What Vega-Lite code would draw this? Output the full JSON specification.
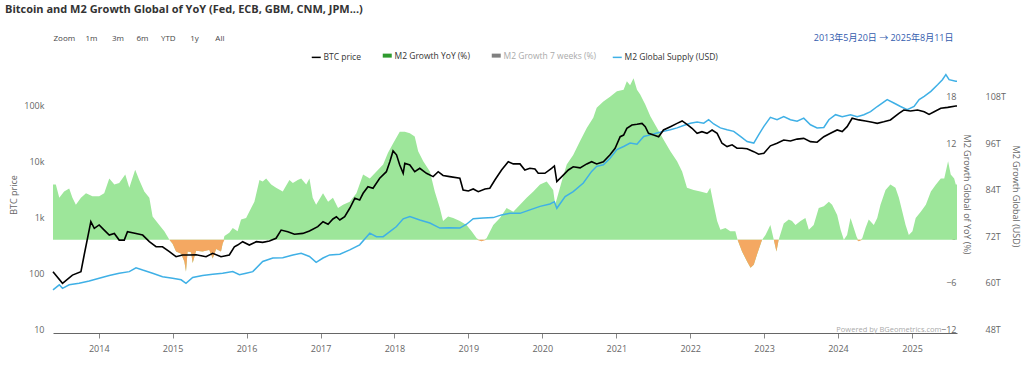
{
  "$schema": "https://vega.github.io/schema/vega-lite/v6.json",
  "width": 904,
  "height": 263,
  "autosize": {"type": "none"},
  "padding": {"left": 53, "top": 70, "right": 67, "bottom": 34},
  "background": "#ffffff",
  "title": {
    "text": "Bitcoin and M2 Growth Global of YoY (Fed, ECB, GBM, CNM, JPM...)",
    "anchor": "start",
    "frame": "group",
    "dx": -48,
    "offset": 18,
    "font": "Open Sans",
    "fontSize": 11,
    "fontWeight": "bold",
    "color": "#333333"
  },
  "datasets": {
    "btc": [
      {"date": "2013-05-20", "price": 124}, {"date": "2013-07-06", "price": 77}, {"date": "2013-08-24", "price": 108},
      {"date": "2013-10-05", "price": 124}, {"date": "2013-10-21", "price": 247}, {"date": "2013-11-23", "price": 972},
      {"date": "2013-12-10", "price": 740}, {"date": "2014-01-03", "price": 850}, {"date": "2014-01-28", "price": 688},
      {"date": "2014-02-22", "price": 560}, {"date": "2014-03-19", "price": 600}, {"date": "2014-04-12", "price": 456},
      {"date": "2014-05-07", "price": 456}, {"date": "2014-05-23", "price": 644}, {"date": "2014-07-04", "price": 600},
      {"date": "2014-08-06", "price": 560}, {"date": "2014-09-08", "price": 427}, {"date": "2014-10-11", "price": 347},
      {"date": "2014-11-12", "price": 347}, {"date": "2014-12-16", "price": 283}, {"date": "2015-01-18", "price": 230},
      {"date": "2015-02-19", "price": 247}, {"date": "2015-03-25", "price": 247}, {"date": "2015-04-27", "price": 250},
      {"date": "2015-06-15", "price": 230}, {"date": "2015-07-18", "price": 265}, {"date": "2015-08-28", "price": 230},
      {"date": "2015-10-08", "price": 247}, {"date": "2015-11-02", "price": 347}, {"date": "2015-11-18", "price": 372},
      {"date": "2015-12-13", "price": 427}, {"date": "2016-01-15", "price": 372}, {"date": "2016-02-18", "price": 427},
      {"date": "2016-03-21", "price": 415}, {"date": "2016-04-23", "price": 440}, {"date": "2016-05-26", "price": 491},
      {"date": "2016-06-20", "price": 688}, {"date": "2016-07-23", "price": 644}, {"date": "2016-08-25", "price": 580},
      {"date": "2016-10-05", "price": 600}, {"date": "2016-11-07", "price": 663}, {"date": "2016-12-18", "price": 791},
      {"date": "2017-01-13", "price": 972}, {"date": "2017-02-07", "price": 875}, {"date": "2017-03-03", "price": 1086},
      {"date": "2017-03-20", "price": 1190}, {"date": "2017-04-06", "price": 1040}, {"date": "2017-04-30", "price": 1190},
      {"date": "2017-05-25", "price": 1686}, {"date": "2017-06-19", "price": 2543}, {"date": "2017-07-13", "price": 2370},
      {"date": "2017-07-30", "price": 3126}, {"date": "2017-08-23", "price": 4100}, {"date": "2017-09-17", "price": 3840},
      {"date": "2017-10-20", "price": 5790}, {"date": "2017-11-22", "price": 7590}, {"date": "2017-12-09", "price": 11440},
      {"date": "2017-12-25", "price": 17800}, {"date": "2018-01-11", "price": 15200}, {"date": "2018-01-27", "price": 10000},
      {"date": "2018-02-13", "price": 7100}, {"date": "2018-02-21", "price": 10700}, {"date": "2018-03-18", "price": 10000},
      {"date": "2018-04-11", "price": 7590}, {"date": "2018-05-06", "price": 8730}, {"date": "2018-06-08", "price": 7100},
      {"date": "2018-07-11", "price": 6200}, {"date": "2018-08-05", "price": 7590}, {"date": "2018-08-29", "price": 6500},
      {"date": "2018-10-01", "price": 6200}, {"date": "2018-11-20", "price": 5790}, {"date": "2018-12-06", "price": 3580},
      {"date": "2019-01-01", "price": 3430}, {"date": "2019-01-25", "price": 3730}, {"date": "2019-02-19", "price": 3330},
      {"date": "2019-03-24", "price": 3730}, {"date": "2019-04-17", "price": 3840}, {"date": "2019-05-12", "price": 5400},
      {"date": "2019-06-14", "price": 8150}, {"date": "2019-07-17", "price": 11440}, {"date": "2019-08-11", "price": 10450},
      {"date": "2019-09-13", "price": 10450}, {"date": "2019-10-07", "price": 8150}, {"date": "2019-11-01", "price": 8730},
      {"date": "2019-11-26", "price": 8500}, {"date": "2019-12-12", "price": 7100}, {"date": "2020-01-14", "price": 7100},
      {"date": "2020-02-16", "price": 8730}, {"date": "2020-03-01", "price": 9600}, {"date": "2020-03-13", "price": 5040},
      {"date": "2020-04-14", "price": 6600}, {"date": "2020-05-09", "price": 8150}, {"date": "2020-06-02", "price": 9300},
      {"date": "2020-07-06", "price": 8900}, {"date": "2020-08-08", "price": 10450}, {"date": "2020-09-01", "price": 11440},
      {"date": "2020-09-26", "price": 10450}, {"date": "2020-10-29", "price": 11440}, {"date": "2020-12-01", "price": 15200},
      {"date": "2020-12-26", "price": 19900}, {"date": "2021-01-20", "price": 32000}, {"date": "2021-02-06", "price": 34200},
      {"date": "2021-02-22", "price": 45200}, {"date": "2021-03-19", "price": 51800}, {"date": "2021-04-13", "price": 53200},
      {"date": "2021-05-08", "price": 55400}, {"date": "2021-05-24", "price": 48300}, {"date": "2021-06-09", "price": 36800},
      {"date": "2021-07-04", "price": 34200}, {"date": "2021-07-29", "price": 32000}, {"date": "2021-08-22", "price": 42200},
      {"date": "2021-09-25", "price": 48300}, {"date": "2021-10-28", "price": 55400}, {"date": "2021-11-22", "price": 61100},
      {"date": "2021-12-16", "price": 53200}, {"date": "2022-01-10", "price": 45200}, {"date": "2022-02-04", "price": 36800},
      {"date": "2022-02-28", "price": 39400}, {"date": "2022-03-25", "price": 36800}, {"date": "2022-04-19", "price": 42200},
      {"date": "2022-05-14", "price": 36800}, {"date": "2022-06-07", "price": 24400}, {"date": "2022-07-02", "price": 21300},
      {"date": "2022-07-27", "price": 22900}, {"date": "2022-08-20", "price": 19900}, {"date": "2022-09-14", "price": 19900},
      {"date": "2022-10-09", "price": 19500}, {"date": "2022-11-11", "price": 17300}, {"date": "2022-12-05", "price": 15600},
      {"date": "2022-12-31", "price": 16200}, {"date": "2023-02-01", "price": 22000}, {"date": "2023-03-06", "price": 24400},
      {"date": "2023-04-08", "price": 27900}, {"date": "2023-05-11", "price": 26800}, {"date": "2023-06-13", "price": 29000},
      {"date": "2023-07-16", "price": 29900}, {"date": "2023-08-18", "price": 26100}, {"date": "2023-09-20", "price": 25500},
      {"date": "2023-10-23", "price": 32000}, {"date": "2023-11-25", "price": 36800}, {"date": "2023-12-28", "price": 42200},
      {"date": "2024-01-22", "price": 39400}, {"date": "2024-02-15", "price": 48300}, {"date": "2024-03-11", "price": 68300},
      {"date": "2024-04-13", "price": 63800}, {"date": "2024-05-16", "price": 61100}, {"date": "2024-06-18", "price": 58000},
      {"date": "2024-07-13", "price": 55400}, {"date": "2024-08-14", "price": 59000}, {"date": "2024-09-16", "price": 63800},
      {"date": "2024-10-28", "price": 83700}, {"date": "2024-11-21", "price": 96000}, {"date": "2024-12-24", "price": 92000},
      {"date": "2025-01-28", "price": 96000}, {"date": "2025-03-02", "price": 89000}, {"date": "2025-03-26", "price": 80000},
      {"date": "2025-04-20", "price": 89000}, {"date": "2025-05-23", "price": 103000}, {"date": "2025-06-26", "price": 107000},
      {"date": "2025-08-05", "price": 113000}, {"date": "2025-08-11", "price": 113000}
    ],
    "supply": [
      {"date": "2013-05-20", "t": 59.1}, {"date": "2013-06-20", "t": 60.4}, {"date": "2013-07-06", "t": 59.5},
      {"date": "2013-08-08", "t": 60.4}, {"date": "2013-09-26", "t": 60.8}, {"date": "2013-11-15", "t": 61.4},
      {"date": "2014-01-03", "t": 62.1}, {"date": "2014-02-22", "t": 62.8}, {"date": "2014-04-12", "t": 63.4},
      {"date": "2014-06-01", "t": 63.8}, {"date": "2014-07-04", "t": 64.8}, {"date": "2014-08-06", "t": 64.2},
      {"date": "2014-09-24", "t": 63.4}, {"date": "2014-11-12", "t": 62.5}, {"date": "2015-01-01", "t": 62.1},
      {"date": "2015-02-12", "t": 61.7}, {"date": "2015-03-08", "t": 60.8}, {"date": "2015-04-10", "t": 62.3},
      {"date": "2015-05-29", "t": 62.8}, {"date": "2015-07-18", "t": 63.1}, {"date": "2015-09-05", "t": 63.4},
      {"date": "2015-10-25", "t": 63.8}, {"date": "2015-11-27", "t": 63.0}, {"date": "2015-12-30", "t": 63.4},
      {"date": "2016-02-01", "t": 63.8}, {"date": "2016-03-21", "t": 66.4}, {"date": "2016-05-10", "t": 67.3},
      {"date": "2016-06-28", "t": 67.4}, {"date": "2016-08-17", "t": 68.1}, {"date": "2016-09-27", "t": 68.5},
      {"date": "2016-11-07", "t": 67.7}, {"date": "2016-12-10", "t": 66.2}, {"date": "2017-01-13", "t": 67.3},
      {"date": "2017-02-15", "t": 68.1}, {"date": "2017-04-06", "t": 68.3}, {"date": "2017-05-25", "t": 69.4},
      {"date": "2017-07-13", "t": 70.7}, {"date": "2017-09-01", "t": 73.7}, {"date": "2017-10-04", "t": 72.8},
      {"date": "2017-11-06", "t": 72.8}, {"date": "2017-12-09", "t": 74.1}, {"date": "2018-01-11", "t": 75.4},
      {"date": "2018-02-13", "t": 77.4}, {"date": "2018-03-18", "t": 78.0}, {"date": "2018-05-06", "t": 77.1},
      {"date": "2018-06-25", "t": 76.3}, {"date": "2018-08-13", "t": 75.0}, {"date": "2018-10-01", "t": 75.1},
      {"date": "2018-11-20", "t": 75.0}, {"date": "2018-12-23", "t": 76.0}, {"date": "2019-01-25", "t": 77.4},
      {"date": "2019-03-15", "t": 77.6}, {"date": "2019-05-04", "t": 77.7}, {"date": "2019-06-14", "t": 78.4},
      {"date": "2019-07-25", "t": 78.8}, {"date": "2019-09-13", "t": 78.8}, {"date": "2019-11-01", "t": 79.7},
      {"date": "2019-12-21", "t": 80.6}, {"date": "2020-02-08", "t": 81.2}, {"date": "2020-03-01", "t": 81.8},
      {"date": "2020-03-13", "t": 80.1}, {"date": "2020-04-23", "t": 83.1}, {"date": "2020-06-02", "t": 84.4},
      {"date": "2020-07-22", "t": 86.6}, {"date": "2020-09-01", "t": 89.6}, {"date": "2020-09-26", "t": 90.9},
      {"date": "2020-10-29", "t": 91.3}, {"date": "2020-12-01", "t": 93.0}, {"date": "2021-01-04", "t": 95.2},
      {"date": "2021-02-06", "t": 96.0}, {"date": "2021-03-10", "t": 96.9}, {"date": "2021-04-13", "t": 96.6},
      {"date": "2021-05-16", "t": 98.6}, {"date": "2021-06-18", "t": 99.0}, {"date": "2021-07-21", "t": 99.5},
      {"date": "2021-08-22", "t": 99.9}, {"date": "2021-09-25", "t": 100.3}, {"date": "2021-10-28", "t": 100.8},
      {"date": "2021-11-29", "t": 101.4}, {"date": "2022-01-02", "t": 102.0}, {"date": "2022-02-04", "t": 102.3},
      {"date": "2022-03-09", "t": 102.0}, {"date": "2022-04-02", "t": 102.9}, {"date": "2022-04-27", "t": 101.8},
      {"date": "2022-05-30", "t": 100.8}, {"date": "2022-07-02", "t": 100.3}, {"date": "2022-08-04", "t": 99.9},
      {"date": "2022-09-06", "t": 98.6}, {"date": "2022-10-09", "t": 97.3}, {"date": "2022-11-11", "t": 96.9},
      {"date": "2022-12-05", "t": 99.0}, {"date": "2022-12-31", "t": 101.2}, {"date": "2023-02-01", "t": 103.5},
      {"date": "2023-03-06", "t": 102.9}, {"date": "2023-04-08", "t": 103.7}, {"date": "2023-05-11", "t": 102.9},
      {"date": "2023-06-13", "t": 102.5}, {"date": "2023-07-16", "t": 103.3}, {"date": "2023-08-18", "t": 101.6},
      {"date": "2023-09-20", "t": 100.8}, {"date": "2023-10-23", "t": 100.9}, {"date": "2023-11-17", "t": 102.9},
      {"date": "2023-12-20", "t": 104.2}, {"date": "2024-01-22", "t": 103.7}, {"date": "2024-03-03", "t": 104.2},
      {"date": "2024-04-05", "t": 103.7}, {"date": "2024-05-08", "t": 104.2}, {"date": "2024-06-10", "t": 105.0},
      {"date": "2024-07-13", "t": 106.3}, {"date": "2024-08-31", "t": 108.1}, {"date": "2024-10-03", "t": 107.2},
      {"date": "2024-11-05", "t": 106.3}, {"date": "2024-12-08", "t": 105.5}, {"date": "2025-01-11", "t": 106.3},
      {"date": "2025-02-05", "t": 108.1}, {"date": "2025-03-02", "t": 108.9}, {"date": "2025-04-04", "t": 110.2},
      {"date": "2025-05-07", "t": 111.9}, {"date": "2025-05-31", "t": 113.2}, {"date": "2025-06-17", "t": 114.5},
      {"date": "2025-07-03", "t": 113.2}, {"date": "2025-08-05", "t": 112.8}, {"date": "2025-08-11", "t": 112.8}
    ],
    "growth": [
      {"date": "2013-05-20", "yoy": 7.1}, {"date": "2013-06-03", "yoy": 7.1}, {"date": "2013-06-20", "yoy": 5.4},
      {"date": "2013-07-14", "yoy": 6.2}, {"date": "2013-08-08", "yoy": 6.6}, {"date": "2013-08-24", "yoy": 5.4},
      {"date": "2013-09-10", "yoy": 4.5}, {"date": "2013-10-05", "yoy": 5.4}, {"date": "2013-10-30", "yoy": 6.0},
      {"date": "2013-12-01", "yoy": 5.6}, {"date": "2014-01-03", "yoy": 5.6}, {"date": "2014-01-28", "yoy": 6.0},
      {"date": "2014-02-22", "yoy": 7.9}, {"date": "2014-03-19", "yoy": 7.1}, {"date": "2014-04-12", "yoy": 7.3},
      {"date": "2014-05-12", "yoy": 8.4}, {"date": "2014-06-01", "yoy": 6.7}, {"date": "2014-06-30", "yoy": 9.0},
      {"date": "2014-07-20", "yoy": 7.7}, {"date": "2014-08-14", "yoy": 6.2}, {"date": "2014-09-08", "yoy": 5.4},
      {"date": "2014-09-24", "yoy": 3.0}, {"date": "2014-10-27", "yoy": 1.9}, {"date": "2014-11-21", "yoy": 1.1},
      {"date": "2014-12-16", "yoy": 0.0}, {"date": "2015-01-01", "yoy": -0.5}, {"date": "2015-01-18", "yoy": -1.5},
      {"date": "2015-02-12", "yoy": -1.8}, {"date": "2015-02-28", "yoy": -2.8}, {"date": "2015-03-08", "yoy": -4.1},
      {"date": "2015-03-16", "yoy": -1.5}, {"date": "2015-04-02", "yoy": -1.6}, {"date": "2015-04-10", "yoy": -3.0},
      {"date": "2015-04-27", "yoy": -1.4}, {"date": "2015-05-29", "yoy": -1.5}, {"date": "2015-07-01", "yoy": -1.3},
      {"date": "2015-07-18", "yoy": -2.4}, {"date": "2015-08-04", "yoy": -1.2}, {"date": "2015-08-28", "yoy": -1.5},
      {"date": "2015-09-05", "yoy": -0.5}, {"date": "2015-09-14", "yoy": 0.5}, {"date": "2015-10-08", "yoy": 0.9},
      {"date": "2015-10-25", "yoy": 1.5}, {"date": "2015-11-18", "yoy": 1.1}, {"date": "2015-12-05", "yoy": 2.6},
      {"date": "2015-12-30", "yoy": 2.8}, {"date": "2016-01-24", "yoy": 4.1}, {"date": "2016-02-09", "yoy": 4.9},
      {"date": "2016-03-05", "yoy": 7.7}, {"date": "2016-03-21", "yoy": 7.5}, {"date": "2016-04-07", "yoy": 7.9},
      {"date": "2016-05-02", "yoy": 7.1}, {"date": "2016-05-26", "yoy": 6.7}, {"date": "2016-06-28", "yoy": 6.2},
      {"date": "2016-07-31", "yoy": 7.7}, {"date": "2016-08-17", "yoy": 7.3}, {"date": "2016-09-10", "yoy": 7.7},
      {"date": "2016-09-27", "yoy": 7.9}, {"date": "2016-10-22", "yoy": 7.1}, {"date": "2016-11-07", "yoy": 7.9},
      {"date": "2016-11-23", "yoy": 5.4}, {"date": "2016-12-10", "yoy": 4.5}, {"date": "2017-01-13", "yoy": 6.0},
      {"date": "2017-02-07", "yoy": 4.9}, {"date": "2017-03-03", "yoy": 5.4}, {"date": "2017-03-28", "yoy": 4.1},
      {"date": "2017-04-22", "yoy": 4.5}, {"date": "2017-05-25", "yoy": 4.9}, {"date": "2017-06-27", "yoy": 6.0},
      {"date": "2017-07-30", "yoy": 8.4}, {"date": "2017-09-01", "yoy": 7.9}, {"date": "2017-10-04", "yoy": 8.8},
      {"date": "2017-11-06", "yoy": 9.7}, {"date": "2017-11-30", "yoy": 11.2}, {"date": "2017-12-25", "yoy": 12.4},
      {"date": "2018-01-27", "yoy": 13.9}, {"date": "2018-02-21", "yoy": 13.9}, {"date": "2018-03-18", "yoy": 13.7},
      {"date": "2018-04-11", "yoy": 13.3}, {"date": "2018-04-28", "yoy": 11.4}, {"date": "2018-05-23", "yoy": 10.1},
      {"date": "2018-06-25", "yoy": 8.8}, {"date": "2018-07-19", "yoy": 6.2}, {"date": "2018-08-13", "yoy": 4.1},
      {"date": "2018-08-29", "yoy": 2.4}, {"date": "2018-09-23", "yoy": 3.0}, {"date": "2018-10-18", "yoy": 2.8},
      {"date": "2018-11-20", "yoy": 2.4}, {"date": "2018-12-23", "yoy": 1.9}, {"date": "2019-01-17", "yoy": 1.1},
      {"date": "2019-02-11", "yoy": 0.2}, {"date": "2019-03-07", "yoy": -0.2}, {"date": "2019-04-01", "yoy": 0.2},
      {"date": "2019-05-04", "yoy": 1.9}, {"date": "2019-06-06", "yoy": 2.8}, {"date": "2019-07-09", "yoy": 4.1},
      {"date": "2019-08-11", "yoy": 3.6}, {"date": "2019-09-13", "yoy": 4.5}, {"date": "2019-10-16", "yoy": 5.4},
      {"date": "2019-11-18", "yoy": 6.2}, {"date": "2019-12-21", "yoy": 7.1}, {"date": "2020-01-23", "yoy": 7.5},
      {"date": "2020-02-24", "yoy": 6.4}, {"date": "2020-03-05", "yoy": 4.5}, {"date": "2020-04-06", "yoy": 7.5},
      {"date": "2020-05-01", "yoy": 9.7}, {"date": "2020-06-02", "yoy": 10.9}, {"date": "2020-07-06", "yoy": 12.7},
      {"date": "2020-08-08", "yoy": 14.4}, {"date": "2020-09-09", "yoy": 15.7}, {"date": "2020-09-26", "yoy": 17.0},
      {"date": "2020-10-29", "yoy": 17.8}, {"date": "2020-12-01", "yoy": 18.4}, {"date": "2021-01-04", "yoy": 19.1},
      {"date": "2021-02-06", "yoy": 19.3}, {"date": "2021-02-22", "yoy": 20.4}, {"date": "2021-03-10", "yoy": 19.9},
      {"date": "2021-03-27", "yoy": 20.8}, {"date": "2021-04-13", "yoy": 19.3}, {"date": "2021-04-29", "yoy": 18.7},
      {"date": "2021-05-24", "yoy": 17.4}, {"date": "2021-06-18", "yoy": 15.9}, {"date": "2021-07-21", "yoy": 14.4},
      {"date": "2021-08-22", "yoy": 12.9}, {"date": "2021-09-25", "yoy": 11.4}, {"date": "2021-10-28", "yoy": 10.1},
      {"date": "2021-11-22", "yoy": 8.8}, {"date": "2021-12-16", "yoy": 6.7}, {"date": "2022-01-18", "yoy": 6.4},
      {"date": "2022-02-20", "yoy": 6.2}, {"date": "2022-03-25", "yoy": 6.0}, {"date": "2022-04-10", "yoy": 6.7},
      {"date": "2022-04-27", "yoy": 4.5}, {"date": "2022-05-14", "yoy": 2.4}, {"date": "2022-05-30", "yoy": 1.3},
      {"date": "2022-06-24", "yoy": 1.5}, {"date": "2022-07-18", "yoy": 1.1}, {"date": "2022-08-12", "yoy": 1.1},
      {"date": "2022-08-23", "yoy": 0.0}, {"date": "2022-09-14", "yoy": -1.5}, {"date": "2022-10-09", "yoy": -2.8},
      {"date": "2022-10-26", "yoy": -3.6}, {"date": "2022-11-11", "yoy": -3.2}, {"date": "2022-11-27", "yoy": -1.9},
      {"date": "2022-12-14", "yoy": -0.6}, {"date": "2022-12-22", "yoy": 0.0}, {"date": "2023-01-08", "yoy": 0.6},
      {"date": "2023-02-01", "yoy": 1.9}, {"date": "2023-02-18", "yoy": 0.0}, {"date": "2023-03-03", "yoy": -1.5},
      {"date": "2023-03-14", "yoy": 0.0}, {"date": "2023-04-08", "yoy": 2.1}, {"date": "2023-05-03", "yoy": 2.6},
      {"date": "2023-05-19", "yoy": 2.4}, {"date": "2023-06-05", "yoy": 1.9}, {"date": "2023-06-30", "yoy": 2.4},
      {"date": "2023-07-24", "yoy": 2.8}, {"date": "2023-08-10", "yoy": 1.3}, {"date": "2023-09-03", "yoy": 1.9},
      {"date": "2023-09-28", "yoy": 4.1}, {"date": "2023-10-23", "yoy": 4.3}, {"date": "2023-11-17", "yoy": 4.9},
      {"date": "2023-12-03", "yoy": 4.5}, {"date": "2023-12-28", "yoy": 3.2}, {"date": "2024-01-14", "yoy": 1.3},
      {"date": "2024-01-30", "yoy": 0.0}, {"date": "2024-02-15", "yoy": 0.6}, {"date": "2024-03-03", "yoy": 2.8},
      {"date": "2024-03-19", "yoy": 1.5}, {"date": "2024-04-02", "yoy": 0.4}, {"date": "2024-04-13", "yoy": -0.2},
      {"date": "2024-04-30", "yoy": 0.2}, {"date": "2024-05-16", "yoy": 1.5}, {"date": "2024-06-01", "yoy": 2.6},
      {"date": "2024-06-26", "yoy": 1.9}, {"date": "2024-07-13", "yoy": 2.8}, {"date": "2024-07-29", "yoy": 4.5},
      {"date": "2024-08-23", "yoy": 6.4}, {"date": "2024-09-16", "yoy": 7.1}, {"date": "2024-10-11", "yoy": 6.7},
      {"date": "2024-10-28", "yoy": 5.4}, {"date": "2024-11-14", "yoy": 3.6}, {"date": "2024-11-30", "yoy": 1.9},
      {"date": "2024-12-16", "yoy": 0.6}, {"date": "2025-01-03", "yoy": 1.1}, {"date": "2025-01-19", "yoy": 2.8},
      {"date": "2025-02-13", "yoy": 3.6}, {"date": "2025-03-10", "yoy": 4.5}, {"date": "2025-04-04", "yoy": 6.2},
      {"date": "2025-04-29", "yoy": 7.1}, {"date": "2025-05-23", "yoy": 7.9}, {"date": "2025-06-09", "yoy": 7.9},
      {"date": "2025-06-28", "yoy": 10.1}, {"date": "2025-07-11", "yoy": 8.4}, {"date": "2025-07-28", "yoy": 7.9},
      {"date": "2025-08-05", "yoy": 7.1}, {"date": "2025-08-11", "yoy": 7.1}
    ]
  },
  "layer": [
    {
      "data": {"name": "growth"},
      "mark": {"type": "area", "color": "#9de69a", "opacity": 1},
      "encoding": {
        "x": {
          "field": "date", "type": "temporal",
          "scale": {"domain": [{"year": 2013, "month": 5, "date": 20, "utc": true}, {"year": 2025, "month": 8, "date": 11, "utc": true}], "nice": false},
          "axis": {
            "orient": "bottom", "format": "%Y", "tickCount": {"interval": "year", "step": 1},
            "domain": true, "domainColor": "#666666", "ticks": true, "tickColor": "#888888", "tickSize": 5,
            "labelPadding": 6, "labelFlush": false, "labelOverlap": false,
            "title": "Powered by BGeometrics.com", "titleX": 888, "titleY": -4, "titleAlign": "right",
            "titleBaseline": "middle", "titleFontSize": 7.5, "titleColor": "#aaaaaa"
          }
        },
        "y": {
          "field": "yoy", "type": "quantitative",
          "scale": {"domain": [-12, 21.85], "nice": false, "zero": false},
          "axis": {
            "orient": "right", "values": [-12, -6, 0, 6, 12, 18],
            "labelAlign": "right", "labelPadding": -1, "labelOffset": -3.5,
            "title": "M2 Growth Global of YoY (%)", "titleX": 9, "titleY": 124, "titleAngle": 90,
            "titleAlign": "center", "titleBaseline": "middle"
          }
        },
        "y2": {"datum": 0}
      }
    },
    {
      "data": {"name": "growth"},
      "mark": {"type": "area", "color": "#f4a862", "opacity": 1},
      "encoding": {
        "x": {
          "field": "date", "type": "temporal",
          "scale": {"domain": [{"year": 2013, "month": 5, "date": 20, "utc": true}, {"year": 2025, "month": 8, "date": 11, "utc": true}], "nice": false},
          "axis": {
            "orient": "top", "labels": false, "ticks": false, "domain": false,
            "title": "Zoom\u00a0\u00a0\u00a0\u00a0\u00a01m\u00a0\u00a0\u00a0\u00a0\u00a0\u00a0\u00a03m\u00a0\u00a0\u00a0\u00a0\u00a0\u00a06m\u00a0\u00a0\u00a0\u00a0\u00a0\u00a0YTD\u00a0\u00a0\u00a0\u00a0\u00a0\u00a0\u00a01y\u00a0\u00a0\u00a0\u00a0\u00a0\u00a0\u00a0\u00a0All",
            "titleX": 0, "titleY": -32, "titleAlign": "left", "titleBaseline": "middle",
            "titleColor": "#444444", "titleFontSize": 8
          }
        },
        "y": {
          "field": "yoy", "type": "quantitative",
          "scale": {"domain": [-12, 0], "range": [263, 169.8], "clamp": true, "nice": false, "zero": false},
          "axis": null
        },
        "y2": {"datum": 0}
      }
    },
    {
      "data": {"name": "supply"},
      "mark": {"type": "line", "strokeWidth": 1.5},
      "encoding": {
        "x": {
          "field": "date", "type": "temporal",
          "scale": {"domain": [{"year": 2013, "month": 5, "date": 20, "utc": true}, {"year": 2025, "month": 8, "date": 11, "utc": true}], "nice": false},
          "axis": {
            "orient": "top", "labels": false, "ticks": false, "domain": false,
            "title": "2013年5月20日  →  2025年8月11日",
            "titleX": 900, "titleY": -33, "titleAlign": "right", "titleBaseline": "middle",
            "titleColor": "#335cad", "titleFontSize": 9, "titleFont": "Open Sans, Noto Sans CJK SC"
          }
        },
        "y": {
          "field": "t", "type": "quantitative",
          "scale": {"domain": [48, 115.7], "nice": false, "zero": false},
          "axis": {
            "orient": "right", "values": [48, 60, 72, 84, 96, 108], "labelExpr": "datum.value + 'T'",
            "labelAlign": "left", "labelPadding": 28, "labelOffset": -3.5,
            "title": "M2 Growth Global (USD)", "titleX": 58, "titleY": 126, "titleAngle": 90,
            "titleAlign": "center", "titleBaseline": "middle"
          }
        },
        "color": {
          "datum": "M2 Global Supply (USD)", "type": "nominal",
          "scale": {
            "domain": ["BTC price", "M2 Growth YoY (%)", "M2 Growth 7 weeks (%)", "M2 Global Supply (USD)"],
            "range": ["#000000", "#2e9a2e", "#808080", "#3fb0e6"]
          },
          "legend": {
            "orient": "none", "legendX": 259, "legendY": -19, "direction": "horizontal", "columns": 4,
            "title": null, "symbolType": "stroke", "symbolSize": 81, "symbolStrokeWidth": 2,
            "labelFont": "Open Sans", "labelFontSize": 8.5, "labelColor": "#333333", "labelOffset": 3,
            "columnPadding": 13, "padding": 0,
            "encode": {
              "labels": {"update": {"fill": {"signal": "datum.label === 'M2 Growth 7 weeks (%)' ? '#aaaaaa' : '#333333'"}}},
              "symbols": {"update": {"strokeWidth": {"signal": "(datum.value === 'M2 Growth YoY (%)' || datum.value === 'M2 Growth 7 weeks (%)') ? 4 : 1.5"}}}
            }
          }
        }
      }
    },
    {
      "data": {"name": "btc"},
      "mark": {"type": "line", "strokeWidth": 1.6},
      "encoding": {
        "x": {
          "field": "date", "type": "temporal",
          "scale": {"domain": [{"year": 2013, "month": 5, "date": 20, "utc": true}, {"year": 2025, "month": 8, "date": 11, "utc": true}], "nice": false},
          "axis": null
        },
        "y": {
          "field": "price", "type": "quantitative",
          "scale": {"type": "log", "domain": [10, 496600], "nice": false},
          "axis": {
            "orient": "left", "values": [10, 100, 1000, 10000, 100000],
            "labelExpr": "datum.value >= 1000 ? (datum.value / 1000) + 'k' : '' + datum.value",
            "labelPadding": 9, "labelOffset": -3.5,
            "title": "BTC price", "titleX": -40, "titleY": 124.5, "titleAngle": -90,
            "titleAlign": "center", "titleBaseline": "middle"
          }
        },
        "color": {"datum": "BTC price", "type": "nominal"}
      }
    }
  ],
  "resolve": {
    "scale": {"y": "independent"},
    "axis": {"x": "independent", "y": "independent"}
  },
  "config": {
    "view": {"stroke": null},
    "font": "Open Sans",
    "axis": {
      "grid": false, "domain": false, "ticks": false,
      "labelFont": "Open Sans", "labelFontSize": 9, "labelColor": "#666666",
      "titleFont": "Open Sans", "titleFontSize": 9, "titleFontWeight": "normal", "titleColor": "#666666"
    }
  }
}
